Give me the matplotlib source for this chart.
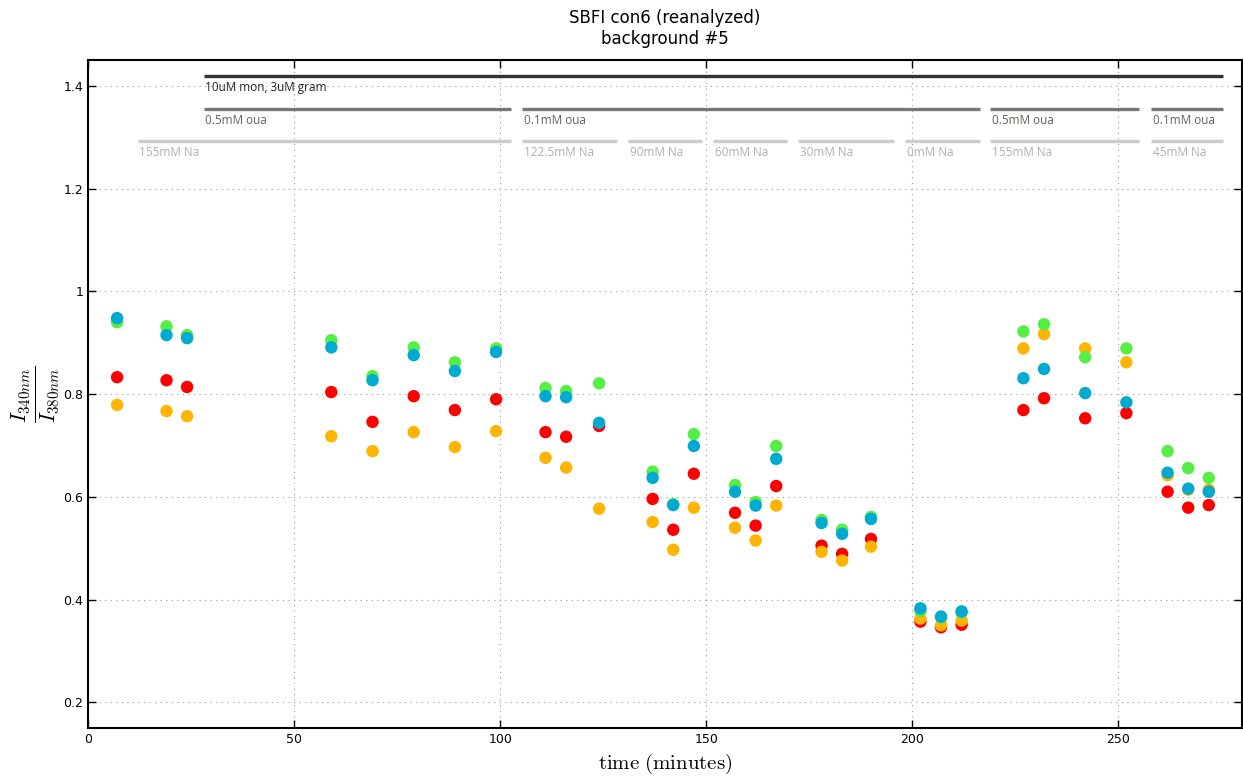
import matplotlib.pyplot as plt

plt.rcParams['mathtext.fontset'] = 'cm'

# sample times (minutes)
tempo = [7, 19, 24, 59, 69, 79, 89, 99, 111, 116, 124, 137, 142, 147, 157, 162, 167,
         178, 183, 190, 202, 207, 212, 227, 232, 242, 252, 262, 267, 272]

# ratio I340/I380 per cell
verde = [0.940, 0.932, 0.915, 0.905, 0.835, 0.891, 0.862, 0.889, 0.812, 0.806, 0.821,
         0.649, 0.586, 0.722, 0.623, 0.590, 0.699, 0.555, 0.536, 0.561, 0.378, 0.365,
         0.375, 0.922, 0.936, 0.872, 0.889, 0.689, 0.656, 0.637]
azul = [0.948, 0.915, 0.909, 0.891, 0.827, 0.876, 0.845, 0.882, 0.796, 0.794, 0.744,
        0.637, 0.584, 0.699, 0.610, 0.583, 0.674, 0.549, 0.528, 0.557, 0.383, 0.367,
        0.377, 0.831, 0.849, 0.802, 0.784, 0.647, 0.616, 0.610]
vermelho = [0.833, 0.827, 0.814, 0.804, 0.746, 0.796, 0.769, 0.790, 0.726, 0.717, 0.738,
            0.596, 0.536, 0.645, 0.569, 0.544, 0.621, 0.505, 0.489, 0.518, 0.357, 0.346,
            0.351, 0.769, 0.792, 0.753, 0.763, 0.610, 0.579, 0.584]
laranja = [0.779, 0.767, 0.757, 0.718, 0.689, 0.726, 0.697, 0.728, 0.676, 0.657, 0.577,
           0.551, 0.497, 0.579, 0.540, 0.515, 0.583, 0.493, 0.476, 0.503, 0.363, 0.350,
           0.359, 0.889, 0.917, 0.889, 0.862, 0.642, 0.614, 0.614]

# condition bars: (start, end, label)
ionoforos = [(28, 275.5, '10uM mon, 3uM gram')]
ouabaina = [(28, 102.5, '0.5mM oua'), (105.3, 216.5, '0.1mM oua'),
            (219, 255, '0.5mM oua'), (258, 275.5, '0.1mM oua')]
sodio = [(12, 102.5, '155mM Na'), (105.3, 128.4, '122.5mM Na'), (131, 149, '90mM Na'),
         (151.7, 169.7, '60mM Na'), (172.3, 195.6, '30mM Na'), (198.3, 216.5, '0mM Na'),
         (219, 255, '155mM Na'), (258, 275.5, '45mM Na')]

fig = plt.figure(figsize=(12.43, 7.80), dpi=100)
ax = fig.add_axes([0.071, 0.0667, 0.928, 0.856])

ms = 80
ax.scatter(tempo, vermelho, s=ms, color='#ff0000', edgecolors='none', zorder=3)
ax.scatter(tempo, laranja, s=ms, color='#ffb400', edgecolors='none', zorder=3)
ax.scatter(tempo, verde, s=ms, color='#55ee44', edgecolors='none', zorder=3)
ax.scatter(tempo, azul, s=ms, color='#00aad0', edgecolors='none', zorder=3)

# condition bars
for barras, y, cor_l, cor_t in [(ionoforos, 1.419, '#333333', '#222222'),
                                (ouabaina, 1.355, '#777777', '#6a6055'),
                                (sodio, 1.293, '#cccccc', '#b0b0b0')]:
    for x0, x1, txt in barras:
        ax.plot([x0, x1], [y, y], color=cor_l, lw=2.4, solid_capstyle='butt', zorder=2)
        ax.text(x0 + 0.4, y - 0.009, txt, color=cor_t, fontsize=8.5, family='Open Sans',
                va='top', ha='left')

ax.set_xlim(0, 280)
ax.set_ylim(0.15, 1.45)
ax.set_xticks([0, 50, 100, 150, 200, 250])
ax.set_yticks([0.2, 0.4, 0.6, 0.8, 1.0, 1.2, 1.4])
ax.set_yticklabels(['0.2', '0.4', '0.6', '0.8', '1', '1.2', '1.4'])
ax.tick_params(direction='in', top=True, right=True, length=6, width=1, labelsize=9)
ax.grid(True, linestyle=(0, (1, 4)), color='#999999', lw=0.8)
for s in ax.spines.values():
    s.set_linewidth(1.5)

ax.set_title('SBFI con6 (reanalyzed)\nbackground #5', fontsize=12, pad=12)
ax.set_xlabel(r'$\mathrm{time\ (minutes)}$', fontsize=15)
ax.set_ylabel(r'$\frac{I_{340nm}}{I_{380nm}}$', fontsize=22, labelpad=2)

fig.savefig('out.png', dpi=100)
